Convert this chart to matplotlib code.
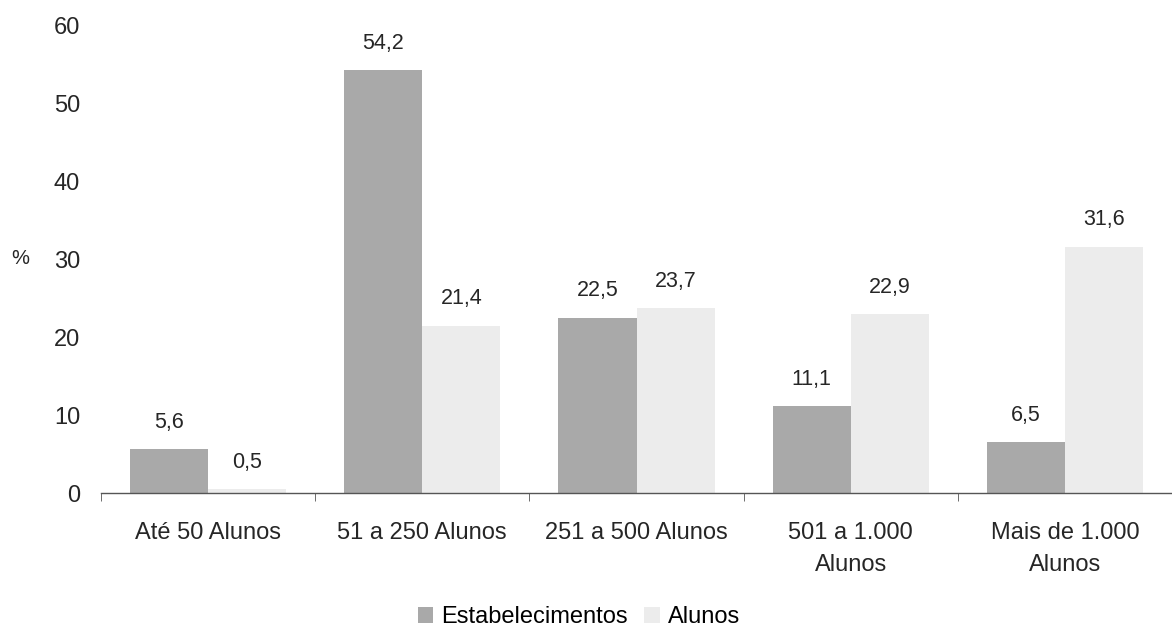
import matplotlib
matplotlib.use("Agg")
import matplotlib.pyplot as plt
import numpy as np

categories = ["Até 50 Alunos", "51 a 250 Alunos", "251 a 500 Alunos", "501 a 1.000\nAlunos", "Mais de 1.000\nAlunos"]
estabelecimentos = [5.6, 54.2, 22.5, 11.1, 6.5]
alunos = [0.5, 21.4, 23.7, 22.9, 31.6]
series_names = ["Estabelecimentos", "Alunos"]
yticks = [0, 10, 20, 30, 40, 50, 60]

plt.rcParams['font.family'] = ['Liberation Sans', 'DejaVu Sans']
fs = 17
txt = '#262626'

fig = plt.figure(figsize=(11.72, 6.30), dpi=100)
# axes: left edge x=101, right 1172; y=0 at 493 px, y=60 at 25 px (from top)
ax = fig.add_axes([101/1172, 1 - 493/630, 1071/1172, 468/630])

x = np.arange(len(categories))
w = 0.365
b1 = ax.bar(x - w/2, estabelecimentos, w, color='#a9a9a9', label=series_names[0])
b2 = ax.bar(x + w/2, alunos, w, color='#ececec', label=series_names[1])

for bars, vals in ((b1, estabelecimentos), (b2, alunos)):
    for r, v in zip(bars, vals):
        ax.annotate(f"{v:.1f}".replace('.', ','), (r.get_x() + r.get_width()/2, v),
                    xytext=(0, 19.5), textcoords='offset points', ha='center', va='center',
                    fontsize=15.5, color=txt)

ax.set_xlim(-0.5, len(categories) - 0.5)
ax.set_ylim(0, 60)
ax.set_yticks(yticks)
ax.set_yticklabels([str(t) for t in yticks], fontsize=fs, color=txt)
ax.tick_params(axis='y', length=0, pad=15)
ax.set_xticks(x)
ax.set_xticklabels(categories, fontsize=fs, color=txt, linespacing=1.6)
ax.tick_params(axis='x', length=0, pad=21)
ax.set_xticks(np.arange(len(categories) + 1) - 0.5, minor=True)
ax.tick_params(axis='x', which='minor', length=6, color='#555555', direction='out')
for s in ('top', 'right', 'left'):
    ax.spines[s].set_visible(False)
ax.spines['bottom'].set_color('#555555')
ax.spines['bottom'].set_linewidth(1.0)

ax.set_ylabel('%', rotation=0, fontsize=14.5, color=txt, va='center', ha='center')
ax.yaxis.set_label_coords(-0.0756, 0.5)

fig.legend(handles=[b1, b2], labels=series_names, loc='center', bbox_to_anchor=(579/1172, 1 - 617/630),
           ncol=2, frameon=False, fontsize=fs, handlelength=0.64, handleheight=0.64,
           handletextpad=0.35, columnspacing=0.7, borderpad=0.1)

fig.savefig('out.png', dpi=100, facecolor='white')
